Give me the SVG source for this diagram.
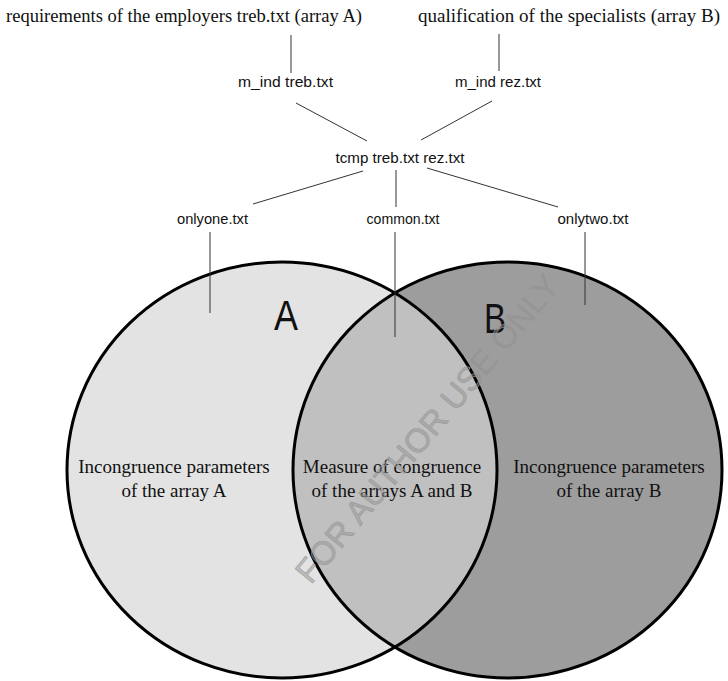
<svg xmlns="http://www.w3.org/2000/svg" width="728" height="681" viewBox="0 0 728 681">
<style>
.title{font-family:"Liberation Serif","Times New Roman",serif;font-size:19px;fill:#111}
.lbl{font-family:"Liberation Sans",Arial,sans-serif;font-size:14px;fill:#111;text-anchor:middle}
.reg{font-family:"Liberation Serif","Times New Roman",serif;font-size:19px;fill:#111;text-anchor:middle}
.big{font-family:"Liberation Sans",Arial,sans-serif;font-size:42px;fill:#111}
.con{stroke:#333;stroke-width:1;fill:none}
.ring{fill:none;stroke:#000;stroke-width:3}
.wm{font-family:"Liberation Sans",Arial,sans-serif;font-size:33px;fill:#8c8c8c;fill-opacity:0.45;stroke:#9a9a9a;stroke-width:0.6;text-anchor:middle}
</style>
<defs>
<clipPath id="clipA"><ellipse cx="282" cy="470" rx="215" ry="208"/></clipPath>
</defs>
<rect width="728" height="681" fill="#fff"/>
<g id="venn">
<ellipse id="setA" cx="282" cy="470" rx="215" ry="208" fill="#e3e3e3"/>
<ellipse id="setB" cx="507.5" cy="470" rx="214.5" ry="208" fill="#9d9d9d"/>
<ellipse id="lens" cx="507.5" cy="470" rx="214.5" ry="208" fill="#c0c0c0" clip-path="url(#clipA)"/>
<ellipse class="ring" cx="282" cy="470" rx="215" ry="208"/>
<ellipse class="ring" cx="507.5" cy="470" rx="214.5" ry="208"/>
</g>
<g id="connectors">
<line class="con" x1="291" y1="35" x2="291" y2="73"/>
<line class="con" x1="499" y1="34" x2="499" y2="71"/>
<line class="con" x1="296" y1="103" x2="367" y2="141"/>
<line class="con" x1="492" y1="101" x2="421" y2="140"/>
<line class="con" x1="363" y1="171" x2="253" y2="204"/>
<line class="con" x1="396" y1="170" x2="396" y2="207"/>
<line class="con" x1="427" y1="168" x2="558" y2="207"/>
<line class="con" x1="210" y1="232" x2="210" y2="313"/>
<line class="con" x1="395" y1="232" x2="395" y2="337"/>
<line class="con" x1="585" y1="232" x2="585" y2="305"/>
</g>
<g id="arrayA"><text class="title" x="6" y="22" textLength="356" lengthAdjust="spacingAndGlyphs">requirements of the employers treb.txt (array A)</text></g>
<g id="arrayB"><text class="title" x="418" y="22" textLength="302" lengthAdjust="spacingAndGlyphs">qualification of the specialists (array B)</text></g>
<g id="mindTreb"><text class="lbl" x="285.5" y="87" textLength="95" lengthAdjust="spacingAndGlyphs">m_ind treb.txt</text></g>
<g id="mindRez"><text class="lbl" x="498" y="87" textLength="86" lengthAdjust="spacingAndGlyphs">m_ind rez.txt</text></g>
<g id="tcmp"><text class="lbl" x="400" y="163" textLength="129" lengthAdjust="spacingAndGlyphs">tcmp treb.txt rez.txt</text></g>
<g id="onlyone"><text class="lbl" x="212.5" y="224" textLength="71" lengthAdjust="spacingAndGlyphs">onlyone.txt</text></g>
<g id="common"><text class="lbl" x="403" y="224" textLength="73" lengthAdjust="spacingAndGlyphs">common.txt</text></g>
<g id="onlytwo"><text class="lbl" x="593" y="224" textLength="71" lengthAdjust="spacingAndGlyphs">onlytwo.txt</text></g>
<g id="labelA"><text class="big" x="274" y="330" textLength="24" lengthAdjust="spacingAndGlyphs">A</text></g>
<g id="labelB"><text class="big" x="484" y="333" textLength="22" lengthAdjust="spacingAndGlyphs">B</text></g>
<g id="regionA">
<text class="reg" x="174" y="473">Incongruence parameters</text>
<text class="reg" x="174" y="497">of the array A</text>
</g>
<g id="regionAB">
<text class="reg" x="392" y="473">Measure of congruence</text>
<text class="reg" x="392" y="497">of the arrays A and B</text>
</g>
<g id="regionB">
<text class="reg" x="609" y="473">Incongruence parameters</text>
<text class="reg" x="609" y="497">of the array B</text>
</g>
<text class="wm" transform="translate(436,436) rotate(-50)">FOR AUTHOR USE ONLY</text>
</svg>
